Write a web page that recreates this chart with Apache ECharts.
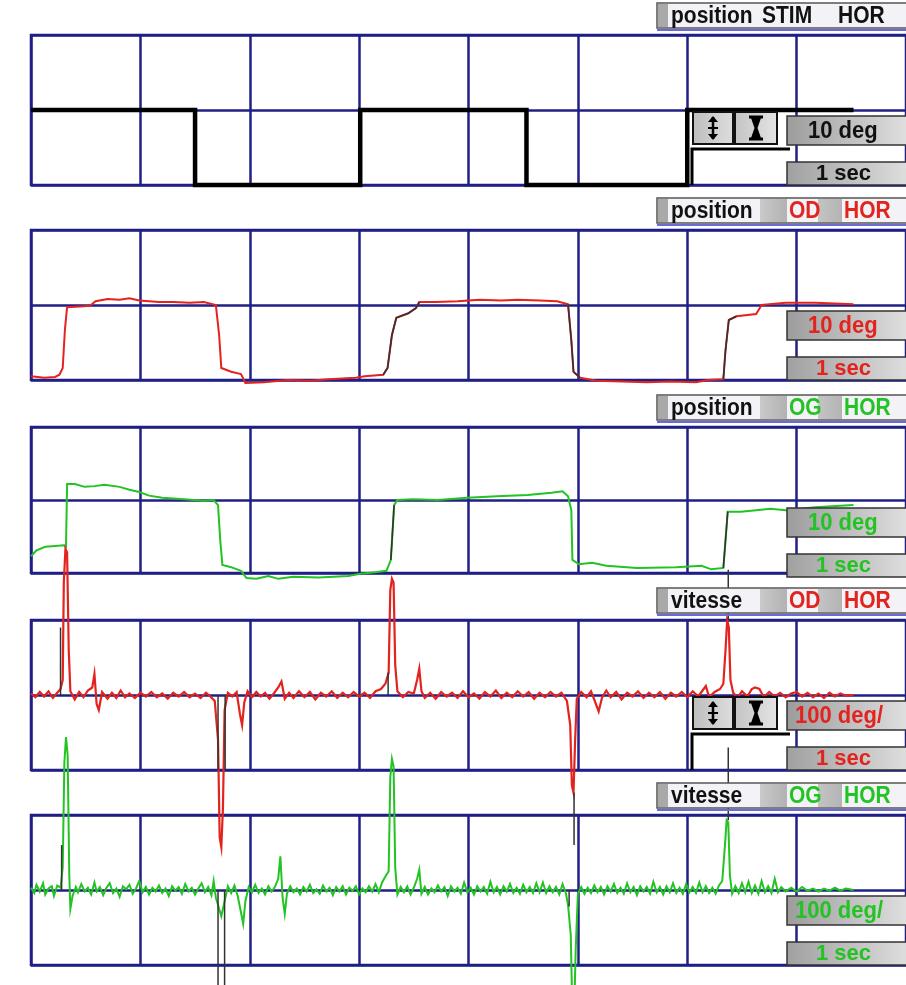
<!DOCTYPE html>
<html><head><meta charset="utf-8">
<script src="https://cdn.jsdelivr.net/npm/echarts@6/dist/echarts.min.js"></script>
<style>html,body{margin:0;padding:0;background:#fff}#c{width:906px;height:985px}</style>
</head><body><div id="c"></div>
<script>
// ---------- DATA ----------
const panelTitles = [["position","STIM","HOR"],["position","OD","HOR"],["position","OG","HOR"],["vitesse","OD","HOR"],["vitesse","OG","HOR"]];
const scaleLabels = ["10 deg","10 deg","10 deg","100 deg/","100 deg/"];
const timeLabel = "1 sec";

// stimulus horizontal position (s, deg)
const stimTimes = [0, 1.5, 1.5, 3.01, 3.01, 4.53, 4.53, 6.0, 6.0, 7.52];
const stimDeg   = [0, 0, -10, -10, 0, 0, -10, -10, 0, 0];

// right eye (OD) horizontal position [s, deg]
const posOD = [[0,-9.5],[0.12,-9.7],[0.22,-9.6],[0.26,-9.3],[0.29,-8.4],[0.31,-3.3],[0.33,-0.3],[0.45,-0.2],[0.54,-0.1],[0.59,0.5],[0.7,0.8],[0.81,0.7],[0.9,0.9],[0.99,0.6],[1.08,0.5],[1.17,0.4],[1.3,0.4],[1.45,0.3],[1.58,0.4],[1.69,0],[1.72,-4],[1.74,-8.4],[1.83,-8.9],[1.92,-9.2],[1.96,-10.4],[2.13,-10.3],[2.35,-10],[2.55,-10.1],[2.72,-9.9],[2.97,-9.7],[3.05,-9.5],[3.22,-9.3],[3.26,-8.4],[3.3,-4],[3.34,-1.7],[3.45,-1.1],[3.52,-0.4],[3.55,0.4],[3.7,0.4],[3.9,0.5],[4.1,0.7],[4.3,0.6],[4.45,0.7],[4.65,0.6],[4.81,0.5],[4.91,0.1],[4.94,-4.7],[4.96,-8.9],[5.02,-9.7],[5.17,-10.1],[5.4,-10.2],[5.63,-10.3],[5.85,-10.2],[6.08,-10.3],[6.19,-10],[6.33,-9.9],[6.35,-6],[6.38,-2],[6.45,-1.5],[6.63,-1.2],[6.68,0],[6.9,0.3],[7.17,0.3],[7.35,0.2],[7.52,0.1]];
const posODdark = [[3.15,3.56],[4.9,5.03],[6.32,6.46]];

// left eye (OG) horizontal position [s, deg]
const posOG = [[0,-7.7],[0.05,-6.9],[0.13,-6.4],[0.22,-6.3],[0.3,-6.2],[0.32,-6.4],[0.33,2.2],[0.4,2.2],[0.49,1.8],[0.58,1.9],[0.67,2.1],[0.81,1.8],[0.9,1.4],[0.99,1.1],[1.08,0.6],[1.2,0.3],[1.4,0.1],[1.58,-0.1],[1.67,0],[1.71,-0.7],[1.73,-5.5],[1.75,-8.9],[1.83,-9.2],[1.92,-9.7],[1.97,-10.7],[2.06,-10.8],[2.17,-10.4],[2.26,-10.8],[2.4,-10.5],[2.63,-10.6],[2.9,-10.4],[3.01,-10.1],[3.15,-9.9],[3.25,-9.7],[3.29,-8.2],[3.32,-0.7],[3.35,0],[3.49,0.1],[3.72,0],[3.99,0.3],[4.26,0.5],[4.54,0.7],[4.76,1],[4.86,1.2],[4.91,0.5],[4.94,-1.4],[4.95,-8.2],[5.01,-8.8],[5.13,-8.6],[5.26,-9],[5.54,-9.3],[5.9,-9.2],[6.13,-9],[6.22,-9.5],[6.33,-9.3],[6.35,-5.5],[6.37,-1.6],[6.49,-1.6],[6.63,-1.4],[6.76,-1.2],[6.9,-1.4],[7.17,-1],[7.52,-0.7]];
const posOGdark = [[3.27,3.33],[6.33,6.4]];

// right eye (OD) horizontal velocity [s, deg/s]
const velOD = [[0,2],[0.04,-3],[0.08,4],[0.12,-2],[0.16,5],[0.2,-4],[0.24,3],[0.27,8],[0.29,20],[0.3,150],[0.315,195],[0.33,190],[0.345,60],[0.36,5],[0.4,-6],[0.44,4],[0.48,-3],[0.52,6],[0.56,10],[0.58,28],[0.6,-12],[0.62,-20],[0.65,4],[0.7,-5],[0.74,3],[0.78,-4],[0.82,6],[0.86,-3],[0.9,2],[0.95,-4],[1,3],[1.05,-2],[1.1,4],[1.15,-3],[1.2,2],[1.25,-5],[1.3,3],[1.35,-2],[1.4,4],[1.45,-3],[1.5,2],[1.55,-4],[1.6,3],[1.64,-2],[1.68,-8],[1.71,-60],[1.725,-190],[1.74,-203],[1.755,-150],[1.77,-20],[1.8,3],[1.84,-2],[1.88,4],[1.91,-25],[1.93,-40],[1.95,-10],[1.98,5],[2.02,-3],[2.06,4],[2.1,-2],[2.14,3],[2.18,-5],[2.22,2],[2.26,10],[2.29,18],[2.32,-5],[2.36,3],[2.4,-4],[2.45,5],[2.5,-3],[2.55,4],[2.6,-6],[2.65,3],[2.7,-2],[2.75,5],[2.8,-4],[2.85,3],[2.9,-3],[2.95,4],[3,-2],[3.05,3],[3.1,-4],[3.15,5],[3.2,8],[3.24,15],[3.27,30],[3.285,140],[3.3,155],[3.315,150],[3.33,40],[3.35,5],[3.4,-3],[3.45,4],[3.5,2],[3.53,20],[3.55,35],[3.57,5],[3.6,-4],[3.65,3],[3.7,-5],[3.75,4],[3.8,-2],[3.85,3],[3.9,-4],[3.95,5],[4,-3],[4.05,2],[4.1,-5],[4.15,4],[4.2,-2],[4.25,6],[4.3,-4],[4.35,3],[4.4,-3],[4.45,5],[4.5,-2],[4.55,4],[4.6,-5],[4.65,3],[4.7,-3],[4.75,4],[4.8,-2],[4.85,3],[4.9,-8],[4.93,-40],[4.945,-120],[4.96,-130],[4.975,-60],[4.99,-5],[5.03,4],[5.08,-3],[5.12,5],[5.16,-10],[5.19,-22],[5.22,-4],[5.26,6],[5.3,-3],[5.35,4],[5.4,-6],[5.45,3],[5.5,-2],[5.55,5],[5.6,-4],[5.65,3],[5.7,-3],[5.75,4],[5.8,-5],[5.85,3],[5.9,-2],[5.95,4],[6,-3],[6.05,5],[6.1,-2],[6.14,6],[6.17,12],[6.2,-3],[6.25,4],[6.3,8],[6.33,15],[6.35,60],[6.365,100],[6.38,90],[6.395,20],[6.42,3],[6.46,-4],[6.5,5],[6.55,-2],[6.59,8],[6.62,10],[6.66,8],[6.7,-3],[6.75,4],[6.8,-2],[6.85,3],[6.9,-3],[6.95,2],[7,4],[7.05,-2],[7.1,3],[7.15,-3],[7.2,2],[7.25,-4],[7.3,3],[7.35,-2],[7.4,2],[7.45,-1],[7.52,0]];
// thin dark saccade markers on OD velocity [s, from, to]
const velODmarks = [[0.27,0,90],[1.71,0,-100],[1.775,0,-100],[3.265,0,30],[4.965,-130,-200],[6.375,100,167]];

// left eye (OG) horizontal velocity [s, deg/s]
const velOG = [[0,3],[0.03,-4],[0.05,7],[0.08,-2],[0.11,9],[0.13,-6],[0.16,2],[0.19,5],[0.21,-8],[0.24,6],[0.27,3],[0.29,30],[0.305,170],[0.32,204],[0.335,180],[0.35,20],[0.36,-25],[0.38,-8],[0.41,4],[0.43,-3],[0.46,8],[0.49,-2],[0.52,3],[0.55,-6],[0.58,10],[0.6,-2],[0.63,4],[0.66,-7],[0.69,3],[0.72,9],[0.75,-4],[0.78,2],[0.81,-9],[0.84,5],[0.87,1],[0.9,7],[0.93,-5],[0.96,2],[0.99,12],[1.02,-3],[1.05,4],[1.08,-6],[1.11,3],[1.14,-2],[1.17,6],[1.2,-4],[1.23,2],[1.26,-8],[1.29,5],[1.32,-1],[1.35,4],[1.38,-5],[1.41,8],[1.44,-2],[1.47,3],[1.5,-6],[1.53,2],[1.56,9],[1.59,-3],[1.62,4],[1.65,-7],[1.67,12],[1.69,-10],[1.71,-20],[1.74,-35],[1.77,-15],[1.8,5],[1.83,-4],[1.86,6],[1.89,-8],[1.92,-30],[1.94,-45],[1.96,-15],[1.99,4],[2.02,-3],[2.05,7],[2.08,-4],[2.11,2],[2.14,-6],[2.17,5],[2.2,-2],[2.23,4],[2.26,15],[2.28,45],[2.3,-10],[2.32,-32],[2.34,-5],[2.37,5],[2.4,-3],[2.43,2],[2.46,-6],[2.49,4],[2.52,-2],[2.55,7],[2.58,-4],[2.61,1],[2.64,-5],[2.67,6],[2.7,-2],[2.73,3],[2.76,-7],[2.79,4],[2.82,-2],[2.85,5],[2.88,-6],[2.91,3],[2.94,-1],[2.97,5],[3,-6],[3.03,2],[3.06,-3],[3.09,5],[3.12,-2],[3.15,8],[3.18,-3],[3.21,10],[3.24,18],[3.27,25],[3.285,150],[3.3,175],[3.315,165],[3.33,30],[3.35,-6],[3.38,4],[3.41,-3],[3.44,5],[3.47,-6],[3.5,3],[3.53,15],[3.55,27],[3.57,-5],[3.6,4],[3.63,-6],[3.66,2],[3.69,-3],[3.72,6],[3.75,-2],[3.78,4],[3.81,-8],[3.84,5],[3.87,-2],[3.9,3],[3.93,-5],[3.96,10],[3.99,-3],[4.02,3],[4.05,-6],[4.08,5],[4.11,-2],[4.14,4],[4.17,-5],[4.2,11],[4.23,-3],[4.26,4],[4.29,-6],[4.32,5],[4.35,-2],[4.38,8],[4.41,-4],[4.44,3],[4.47,-5],[4.5,7],[4.53,-3],[4.56,4],[4.59,-4],[4.62,9],[4.65,-3],[4.68,10],[4.71,-4],[4.74,5],[4.77,-3],[4.8,4],[4.83,-6],[4.86,8],[4.89,-4],[4.91,-20],[4.935,-60],[4.95,-165],[4.965,-170],[4.98,-80],[5,-5],[5.03,4],[5.06,-5],[5.09,3],[5.12,-4],[5.15,6],[5.18,-3],[5.21,4],[5.24,-6],[5.27,5],[5.3,-2],[5.33,8],[5.36,-4],[5.39,3],[5.42,-5],[5.45,9],[5.48,-3],[5.51,4],[5.54,-7],[5.57,5],[5.6,-2],[5.63,4],[5.66,-5],[5.69,11],[5.72,-3],[5.75,4],[5.78,-6],[5.81,5],[5.84,-3],[5.87,9],[5.9,-4],[5.93,3],[5.96,-5],[5.99,8],[6.02,-3],[6.05,4],[6.08,-4],[6.11,10],[6.14,-3],[6.17,5],[6.2,-4],[6.23,3],[6.26,-5],[6.29,6],[6.32,12],[6.345,60],[6.36,93],[6.375,90],[6.39,20],[6.41,-5],[6.44,5],[6.47,-4],[6.5,9],[6.53,-3],[6.56,11],[6.59,-4],[6.62,6],[6.65,-5],[6.68,12],[6.71,-3],[6.74,5],[6.77,-4],[6.8,15],[6.83,-3],[6.86,4],[6.9,-2],[6.95,3],[7,-2],[7.05,4],[7.1,-1],[7.15,2],[7.2,-2],[7.25,2],[7.3,-1],[7.35,3],[7.4,-1],[7.45,2],[7.52,0]];
const velOGmarks = [[0.28,0,60],[1.71,0,-150],[1.77,0,-150],[4.92,0,-22],[6.375,93,190]];

// ---------- LAYOUT / STYLE ----------
const tops = [35, 230, 427, 620, 815];
const heights = [150, 150, 146, 150, 150];
const gridColor = '#1f1f86';
const RED = '#e3231d', GREEN = '#22c322', DARK = '#333333';
const titleColors = ['#111', RED, GREEN, RED, GREEN];
const FONT = 'bold 21px "Liberation Sans", Arial, sans-serif';
const SFONT = 'bold 22px "Liberation Sans", Arial, sans-serif';

const chart = echarts.init(document.getElementById('c'), null, {renderer:'canvas'});

const grids = [], xAxes = [], yAxes = [], series = [];
for (let i = 0; i < 5; i++) {
  grids.push({left: 31, top: tops[i], width: 882, height: heights[i], show: true, borderColor: gridColor, borderWidth: 2.5, backgroundColor: 'transparent'});
  xAxes.push({type:'value', gridIndex:i, min:0, max:8, interval:1, axisLabel:{show:false}, axisTick:{show:false}, axisLine:{show:false},
    splitLine:{show:true, lineStyle:{color:gridColor, width:2.5}}});
  const vel = i >= 3;
  yAxes.push({type:'value', gridIndex:i, min: vel ? -100 : -10, max: vel ? 100 : 10, interval: vel ? 100 : 10,
    axisLabel:{show:false}, axisTick:{show:false}, axisLine:{show:false},
    splitLine:{show:true, lineStyle:{color:gridColor, width:2.5}}});
}
function line(idx, data, color, width, z) {
  return {type:'line', xAxisIndex:idx, yAxisIndex:idx, data, symbol:'none', showSymbol:false, clip:false,
    lineStyle:{color, width, join:'miter'}, z, animation:false, silent:true};
}
series.push(line(0, stimTimes.map((t, k) => [t, stimDeg[k]]), '#000', 4.5, 3));
series.push(line(1, posOD, RED, 2, 3));
posODdark.forEach(r => series.push(line(1, posOD.filter(p => p[0] >= r[0] && p[0] <= r[1]), DARK, 1.6, 4)));
series.push(line(2, posOG, GREEN, 2, 3));
posOGdark.forEach(r => series.push(line(2, posOG.filter(p => p[0] >= r[0] && p[0] <= r[1]), DARK, 1.6, 4)));
series.push(line(3, velOD, RED, 2.2, 3));
velODmarks.forEach(m => series.push(line(3, [[m[0], m[1]], [m[0], m[2]]], DARK, 1.5, 4)));
series.push(line(4, velOG, GREEN, 2, 3));
velOGmarks.forEach(m => series.push(line(4, [[m[0], m[1]], [m[0], m[2]]], DARK, 1.5, 4)));

// ---------- overlay widgets ----------
const g = [];
const grayGrad = (a, b) => ({type:'linear', x:0, y:0, x2:1, y2:0, colorStops:[{offset:0, color:a},{offset:1, color:b}]});
function txt(x, y, s, fill, font, sy) {
  g.push({type:'text', x, y, scaleY: sy || 1.18, z: 30, style:{text:s, fill, font, verticalAlign:'middle', align:'left'}});
}
for (let i = 0; i < 5; i++) {
  const T = tops[i];
  // title box
  g.push({type:'rect', z:20, shape:{x:657, y:T-32, width:260, height:25}, style:{fill:'#f3f3f7', stroke:'#555', lineWidth:1.5}});
  g.push({type:'rect', z:21, shape:{x:658, y:T-31, width:10, height:23}, style:{fill:'#a9a9a9'}});
  g.push({type:'line', z:21, shape:{x1:657, y1:T-5, x2:906, y2:T-5}, style:{stroke:'#6a6ad8', lineWidth:2}});
  const tt = panelTitles[i];
  if (i === 0) {
    txt(671, T-19, tt[0], '#111', FONT);
    txt(762, T-19, tt[1], '#111', FONT);
    txt(838, T-19, tt[2], '#111', FONT);
  } else {
    g.push({type:'rect', z:21, shape:{x:760, y:T-31, width:27, height:23}, style:{fill:grayGrad('#c9c9c9','#b2b2b2')}});
    g.push({type:'rect', z:21, shape:{x:818, y:T-31, width:24, height:23}, style:{fill:grayGrad('#c4c4c4','#b4b4b4')}});
    txt(671, T-19, tt[0], '#111', FONT);
    txt(789, T-19, tt[1], titleColors[i], FONT);
    txt(844, T-19, tt[2], titleColors[i], FONT);
  }
  // scale boxes
  g.push({type:'rect', z:20, shape:{x:787, y:T+81, width:125, height:29}, style:{fill:grayGrad('#9c9c9c','#e2e2e2'), stroke:'#333', lineWidth:1.5}});
  g.push({type:'rect', z:20, shape:{x:787, y:T+127, width:125, height:23}, style:{fill:grayGrad('#a0a0a0','#e0e0e0'), stroke:'#333', lineWidth:1.5}});
  txt(i >= 3 ? 795 : 808, T+96, scaleLabels[i], titleColors[i], SFONT, 1.12);
  txt(816, T+139, timeLabel, titleColors[i], SFONT, 1.0);
  // buttons
  if (i === 0 || i === 3) {
    g.push({type:'polyline', z:20, shape:{points:[[692,T+150],[692,T+114],[790,T+114]]}, style:{stroke:'#000', lineWidth:3, fill:null}});
    g.push({type:'rect', z:20, shape:{x:693, y:T+77, width:40, height:32}, style:{fill:grayGrad('#bdbdbd','#dedede'), stroke:'#111', lineWidth:2}});
    g.push({type:'rect', z:20, shape:{x:735, y:T+77, width:42, height:32}, style:{fill:grayGrad('#c4c4c4','#e4e4e4'), stroke:'#111', lineWidth:2}});
    const cx = 713, cy = T+93;
    g.push({type:'line', z:22, shape:{x1:cx, y1:cy-11, x2:cx, y2:cy+11}, style:{stroke:'#000', lineWidth:2.5}});
    g.push({type:'polygon', z:22, shape:{points:[[cx-5,cy-6],[cx+5,cy-6],[cx,cy-12]]}, style:{fill:'#000'}});
    g.push({type:'polygon', z:22, shape:{points:[[cx-5,cy+6],[cx+5,cy+6],[cx,cy+12]]}, style:{fill:'#000'}});
    g.push({type:'line', z:22, shape:{x1:cx-5, y1:cy, x2:cx+5, y2:cy}, style:{stroke:'#000', lineWidth:2}});
    const hx = 756;
    g.push({type:'line', z:22, shape:{x1:hx-7, y1:cy-11, x2:hx+7, y2:cy-11}, style:{stroke:'#000', lineWidth:3}});
    g.push({type:'line', z:22, shape:{x1:hx-7, y1:cy+11, x2:hx+7, y2:cy+11}, style:{stroke:'#000', lineWidth:3}});
    g.push({type:'polygon', z:22, shape:{points:[[hx-5,cy-10],[hx+5,cy-10],[hx+1.5,cy],[hx+5,cy+10],[hx-5,cy+10],[hx-1.5,cy]]}, style:{fill:'#000'}});
  }
}

chart.setOption({
  animation: false,
  backgroundColor: '#ffffff',
  grid: grids, xAxis: xAxes, yAxis: yAxes, series: series,
  graphic: {elements: g}
});
</script>
</body></html>
